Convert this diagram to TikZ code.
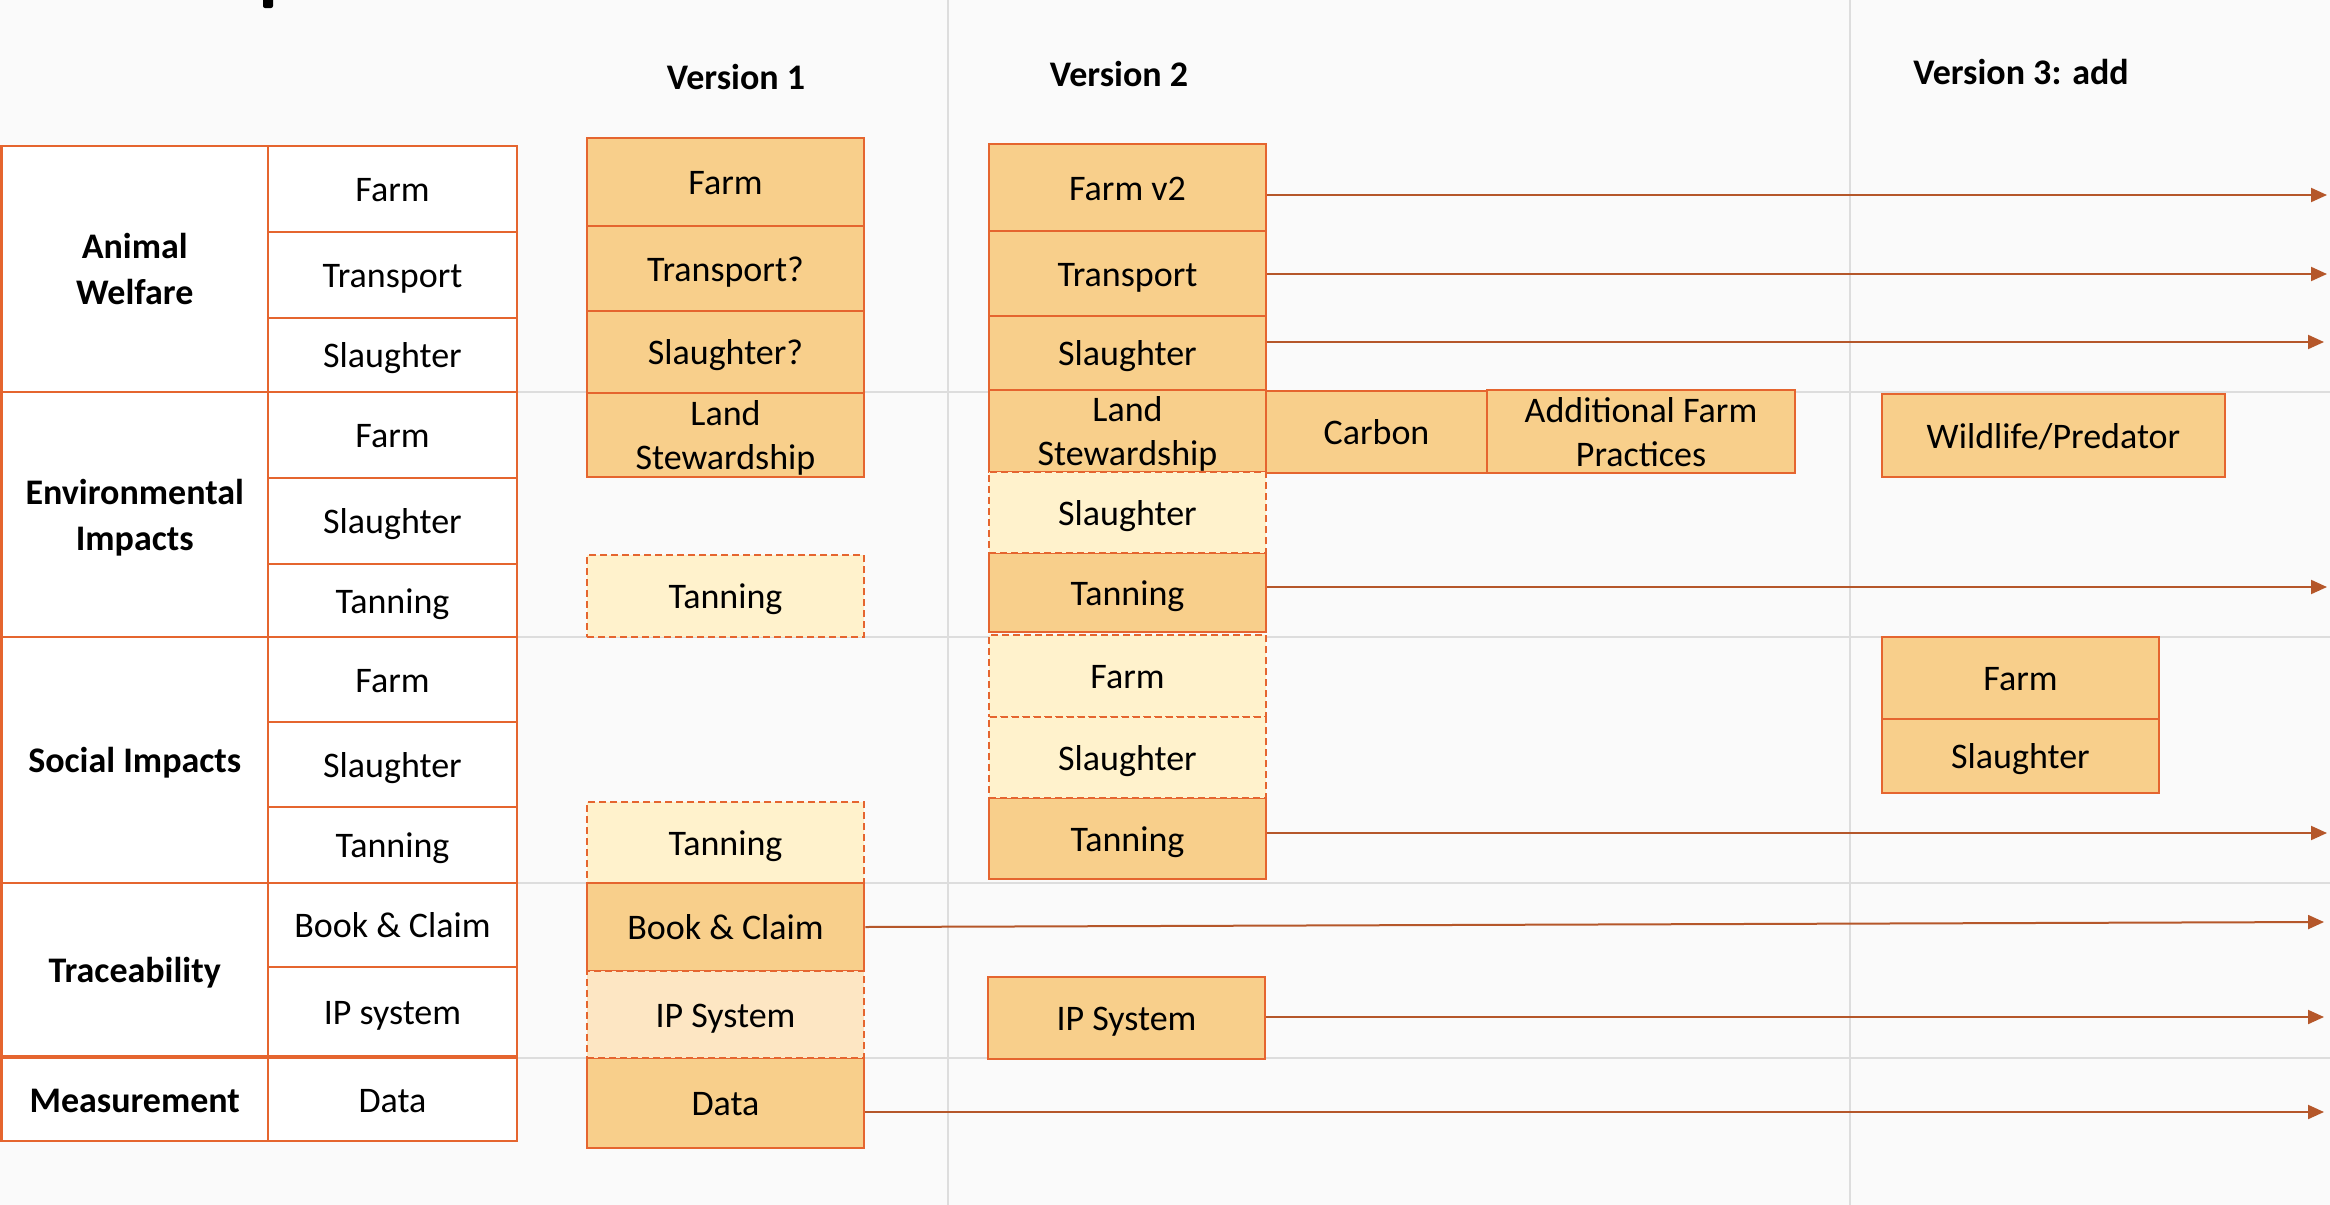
\documentclass[tikz,border=0pt]{standalone}
\usepackage{fontspec}
\setmainfont{Carlito}
\usetikzlibrary{arrows.meta}
\definecolor{bord}{HTML}{E5652F}
\definecolor{solidfill}{HTML}{F8CF8B}
\definecolor{lightfill}{HTML}{FFF2CC}
\definecolor{peachfill}{HTML}{FDE6C3}
\definecolor{arrowc}{HTML}{B5572A}
\definecolor{gridc}{HTML}{DDDDDD}
\definecolor{bgc}{HTML}{FAFAFA}
\newcommand\placebox[7]{\node[#6, minimum width={(#4-#2)*1pt}, minimum height={(#5-#3)*1pt}] (#1) at ({(#2+#4)/2},{(#3+#5)/2}) {#7};}
\begin{document}
\begin{tikzpicture}[x=1pt,y=-1pt,
  base/.style={draw=bord, line width=2.5pt, inner sep=0pt, align=center, font=\fontsize{36}{44}\selectfont, text=black, text height=25pt, text depth=0pt},
  two/.style={text height=69pt, text depth=0pt},
  twog/.style={text height=71pt, text depth=0pt},
  lcell/.style={base, fill=white},
  gcell/.style={base, fill=white, font=\bfseries\fontsize{36}{46}\selectfont},
  sbox/.style={base, fill=solidfill},
  dbox/.style={base, fill=lightfill, dash pattern=on 7pt off 4pt},
  pbox/.style={base, fill=peachfill, dash pattern=on 7pt off 4pt},
  hdr/.style={font=\bfseries\fontsize{36}{44}\selectfont, text=black, inner sep=0pt, text height=23pt, text depth=0pt},
  arr/.style={draw=arrowc, line width=2pt, -{Triangle[length=16pt,width=14pt]}},
  gridl/.style={draw=gridc, line width=2pt}]
\fill[bgc] (0,0) rectangle (2330,1205);
\useasboundingbox (0,0) rectangle (2330,1205);
% grid
\draw[gridl] (948,0) -- (948,1205);
\draw[gridl] (1850,0) -- (1850,1205);
\foreach \yy in {392,637,883,1058} \draw[gridl] (0,\yy) -- (2330,\yy);
% title fragment
\fill[black, rounded corners=2pt] (263,-4) rectangle (273,8);
% headers
\node[hdr] (h1) at (736,78) {Version 1};
\node[hdr] (h2) at (1119,75) {Version 2};
\node[hdr] (h3) at (2021,73) {Version 3: add};
% left table groups
\placebox{gAW}{1.5}{146}{268}{392}{gcell,twog}{Animal\\Welfare}
\placebox{gEI}{1.5}{392}{268}{637}{gcell,twog}{Environmental\\Impacts}
\placebox{gSI}{1.5}{637}{268}{883}{gcell}{Social Impacts}
\placebox{gTR}{1.5}{883}{268}{1056}{gcell}{Traceability}
\placebox{gME}{1.5}{1058}{268}{1141}{gcell}{Measurement}
% left table sub cells
\placebox{awF}{268}{146}{517}{232}{lcell}{Farm}
\placebox{awT}{268}{232}{517}{318}{lcell}{Transport}
\placebox{awS}{268}{318}{517}{392}{lcell}{Slaughter}
\placebox{eiF}{268}{392}{517}{478}{lcell}{Farm}
\placebox{eiS}{268}{478}{517}{564}{lcell}{Slaughter}
\placebox{eiT}{268}{564}{517}{637}{lcell}{Tanning}
\placebox{siF}{268}{637}{517}{722}{lcell}{Farm}
\placebox{siS}{268}{722}{517}{807}{lcell}{Slaughter}
\placebox{siT}{268}{807}{517}{883}{lcell}{Tanning}
\placebox{trB}{268}{883}{517}{967}{lcell}{Book \& Claim}
\placebox{trI}{268}{967}{517}{1056}{lcell}{IP system}
\placebox{meD}{268}{1058}{517}{1141}{lcell}{Data}
% version 1
\placebox{v1F}{587}{138}{864}{226}{sbox}{Farm}
\placebox{v1T}{587}{226}{864}{311}{sbox}{Transport?}
\placebox{v1S}{587}{311}{864}{393}{sbox}{Slaughter?}
\placebox{v1L}{587}{393}{864}{477}{sbox,two}{Land\\Stewardship}
\placebox{v1Te}{587}{555}{864}{637}{dbox}{Tanning}
\placebox{v1Ts}{587}{802}{864}{883}{dbox}{Tanning}
\placebox{v1B}{587}{883}{864}{971}{sbox}{Book \& Claim}
\placebox{v1D}{587}{1058}{864}{1148}{sbox}{Data}
\placebox{v1I}{587}{971}{864}{1058}{pbox}{IP System}
% version 2
\placebox{v2F}{989}{144}{1266}{231}{sbox}{Farm v2}
\placebox{v2T}{989}{231}{1266}{316}{sbox}{Transport}
\placebox{v2S}{989}{316}{1266}{390}{sbox}{Slaughter}
\placebox{v2L}{989}{390}{1266}{472}{sbox,two}{Land\\Stewardship}
\placebox{v2C}{1266}{391}{1487}{473}{sbox}{Carbon}
\placebox{v2A}{1487}{390}{1795}{473}{sbox,two}{Additional Farm\\Practices}
\placebox{v2Te}{989}{553}{1266}{632}{sbox}{Tanning}
\placebox{v2Ts}{989}{798}{1266}{879}{sbox}{Tanning}
\placebox{v2Se}{989}{472}{1266}{553}{dbox}{Slaughter}
\placebox{v2Fs}{989}{635}{1266}{717}{dbox}{Farm}
\placebox{v2Ss}{989}{717}{1266}{798}{dbox}{Slaughter}
\placebox{v2I}{988}{977}{1265}{1059}{sbox}{IP System}
% version 3
\placebox{v3W}{1882}{394}{2225}{477}{sbox}{Wildlife/Predator}
\placebox{v3F}{1882}{637}{2159}{719}{sbox}{Farm}
\placebox{v3S}{1882}{719}{2159}{793}{sbox}{Slaughter}
% arrow ends
\coordinate (eF) at (2327,195);
\coordinate (eT) at (2327,274);
\coordinate (eS) at (2324,342);
\coordinate (eTe) at (2327,587);
\coordinate (eTs) at (2327,833);
\coordinate (eB) at (2324,922);
\coordinate (eI) at (2324,1017);
\coordinate (eD) at (2324,1112);
\draw[arr] (v2F.east |- eF) -- (eF);
\draw[arr] (v2T.east |- eT) -- (eT);
\draw[arr] (v2S.east |- eS) -- (eS);
\draw[arr] (v2Te.east |- eTe) -- (eTe);
\draw[arr] (v2Ts.east |- eTs) -- (eTs);
\draw[arr] (v1B.east) -- (eB);
\draw[arr] (v2I.east |- eI) -- (eI);
\draw[arr] (v1D.east |- eD) -- (eD);
\end{tikzpicture}
\end{document}
